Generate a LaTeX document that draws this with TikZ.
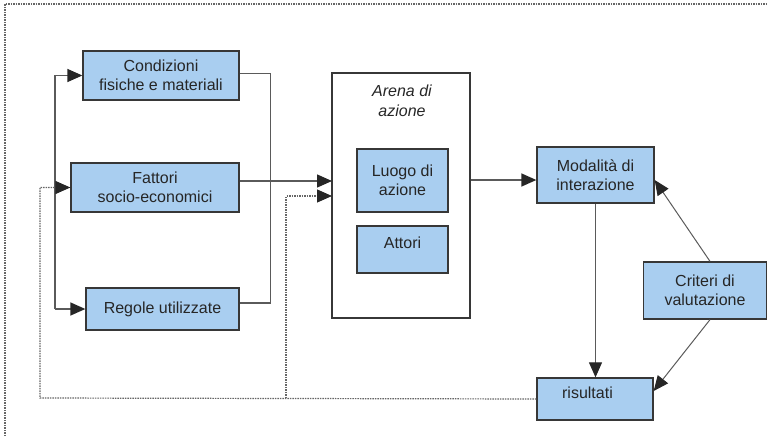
\documentclass[tikz,border=0pt]{standalone}
\usepackage{fontspec}
\setmainfont{Liberation Sans}
\usetikzlibrary{arrows.meta}
\definecolor{boxblue}{RGB}{169,206,240}
\definecolor{linegray}{RGB}{90,90,90}
\definecolor{edgegray}{RGB}{55,55,55}
\begin{document}
\begin{tikzpicture}[x=1pt,y=-1pt]
\tikzstyle{every node}+=[inner sep=0pt]
\tikzstyle{blok}=[draw=edgegray, line width=1.3pt, fill=boxblue, align=center, text=black!85, font=\fontsize{16}{19.5}\selectfont]
\tikzstyle{conn}=[draw=linegray, line width=1.4pt, -{Triangle[length=15pt,width=13pt,color=black!85]}]
\tikzstyle{thinconn}=[conn, line width=1pt]
\tikzstyle{dots}=[draw=black!60, line width=1.2pt, dash pattern=on 1.5pt off 1pt]
\useasboundingbox (0,0) rectangle (768,436);
\draw [dots] (5,436) -- (5,4) -- (768,4);
\node [blok, minimum width=156pt, minimum height=49pt] (cond) at (161,75.5) {Condizioni\\fisiche e materiali};
\node [blok, minimum width=168pt, minimum height=49pt] (fat) at (155,187.5) {Fattori\\socio-economici};
\node [blok, minimum width=153pt, minimum height=42pt] (reg) at (162.5,309) {Regole utilizzate};
\node [draw=edgegray, line width=1.2pt, minimum width=138pt, minimum height=245pt] (arena) at (401,195.5) {};
\node [font=\fontsize{16}{19.5}\selectfont\itshape, text=black!85, align=center] (arenatit) at (402,101) {Arena di\\azione};
\node [blok, minimum width=91pt, minimum height=63pt] (luogo) at (402.5,180.5) {Luogo di\\azione};
\node [blok, minimum width=91pt, minimum height=47pt, text depth=13pt] (attori) at (402.5,249.5) {Attori};
\node [blok, minimum width=117pt, minimum height=56pt] (moda) at (595.5,175) {Modalità di\\interazione};
\node [blok, minimum width=123pt, minimum height=57pt] (crit) at (705,290.5) {Criteri di\\valutazione};
\node [blok, minimum width=116pt, minimum height=42pt, text depth=12pt] (ris) at (595,399) {risultati\hspace*{15pt}};
\coordinate (lft) at (55,309);
\coordinate (ain1) at (332,181);
\coordinate (ain2) at (332,196);
\coordinate (fb) at (40,398);
\coordinate (fb2) at (286,398);
\draw [conn] (lft) |- (cond.west);
\draw [conn] (lft) -- (reg.west);
\draw [draw=linegray, line width=1.4pt] ([yshift=2pt]cond.east) -- ++(31,0) |- ([yshift=6pt]reg.east);
\draw [conn] (fat.east |- ain1) -- (ain1);
\draw [conn] (arena.east |- 0,180) -- ([yshift=-5pt]moda.west);
\draw [thinconn] (moda.south) -- (moda.south |- ris.north);
\draw [thinconn] ([xshift=5pt]crit.north) -- ([yshift=-5pt]moda.east);
\draw [thinconn] ([xshift=5pt]crit.south) -- ([yshift=8pt]ris.east);
\draw [dots, -{Triangle[length=15pt,width=13pt,color=black!85]}] (ris.west) -- (fb) |- (fat.west);
\draw [dots, -{Triangle[length=15pt,width=13pt,color=black!85]}] (fb2) |- (ain2);
\end{tikzpicture}
\end{document}
